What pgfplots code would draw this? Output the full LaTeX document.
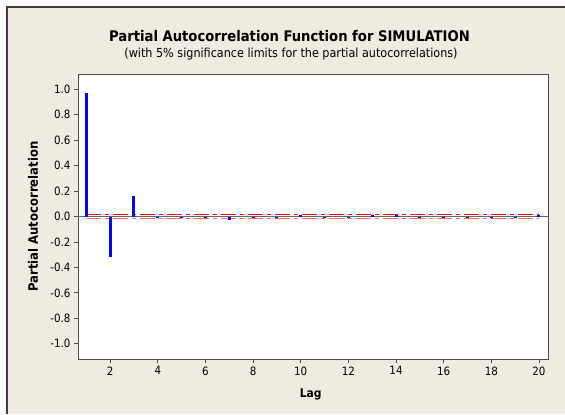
\documentclass[border=0pt]{standalone}
\usepackage{fontspec}
\setmainfont{DejaVu Sans Condensed}
\usepackage{pgfplots}
\pgfplotsset{compat=1.18}
\definecolor{bgc}{HTML}{F0EBE0}
\definecolor{frm}{HTML}{404040}

\pgfplotstableread{
lag pacf
1 0.968
2 -0.322
3 0.160
4 -0.012
5 -0.010
6 -0.008
7 -0.030
8 -0.010
9 -0.008
10 0.010
11 -0.008
12 -0.006
13 0.008
14 0.010
15 -0.006
16 -0.008
17 -0.004
18 -0.006
19 -0.006
20 0.015
}\pacf

\begin{document}
\begin{tikzpicture}[x=1bp,y=1bp]
\path[use as bounding box] (0,0) rectangle (565,414);
\fill[bgc] (7,0) rectangle (565,407);
\draw[frm, line width=1.5bp] (7,0) -- (7,407) -- (565,407);
\node[anchor=base, font=\fontsize{14.7}{16}\selectfont\bfseries] at (289.5,372.3) {Partial Autocorrelation Function for SIMULATION};
\node[anchor=base, font=\fontsize{12.5}{14}\selectfont] at (291,356.7) {(with 5\% significance limits for the partial autocorrelations)};
\begin{axis}[
    at={(78bp,55bp)}, anchor=south west,
    scale only axis, width=470bp, height=285bp,
    xmin=0.65, xmax=20.38, ymin=-1.12, ymax=1.12,
    axis background/.style={fill=white},
    axis line style={black!70, line width=0.8bp},
    xtick={2,4,6,8,10,12,14,16,18,20},
    ytick={-1,-0.8,-0.6,-0.4,-0.2,0,0.2,0.4,0.6,0.8,1},
    yticklabel style={/pgf/number format/.cd, fixed, fixed zerofill, precision=1},
    /pgf/number format/assume math mode=true,
    ticklabel style={font=\fontsize{11.5}{13}\selectfont},
    tick pos=left, tick align=outside, major tick length=4bp,
    tick style={black!70, line width=0.8bp},
    xlabel={\bfseries Lag},
    ylabel={\bfseries Partial Autocorrelation},
    xlabel style={font=\fontsize{12}{14}\selectfont, at={(axis description cs:0.495,0)}, anchor=base, yshift=-38bp},
    ylabel style={font=\fontsize{13}{15}\selectfont, at={(axis description cs:-0.0957,0.5)}, anchor=center},
    clip=false,
]
\addplot[black!60, line width=0.8bp] coordinates {(0.65,0) (20.38,0)};
\addplot[red, line width=1.3bp, dash pattern=on 15bp off 4bp on 4bp off 4bp] coordinates {(1,0.017) (20,0.017)};
\addplot[red!60, line width=1.3bp, dash pattern=on 15bp off 4bp on 4bp off 4bp] coordinates {(1,-0.017) (20,-0.017)};
\addplot[ycomb, blue, line width=3bp, mark=none] table[x=lag, y=pacf] {\pacf};
\end{axis}
\end{tikzpicture}
\end{document}
